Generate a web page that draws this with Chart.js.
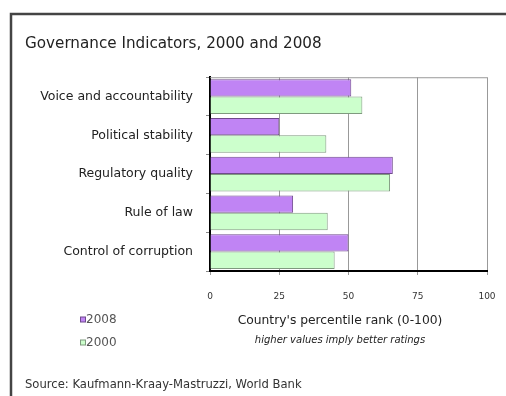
<!DOCTYPE html>
<html><head><meta charset="utf-8">
<script src="https://cdn.jsdelivr.net/npm/chart.js@4/dist/chart.umd.min.js"></script>
<style>html,body{margin:0;padding:0;background:#fff;}#wrap{width:506px;height:396px;}</style>
</head><body><div id="wrap"><canvas id="c" width="506" height="396"></canvas></div>
<script>
const categories = ["Voice and accountability","Political stability","Regulatory quality","Rule of law","Control of corruption"];
const values2008 = [51, 25, 66, 30, 50];
const values2000 = [55, 42, 65, 42.5, 45];
const xTicks = [0, 25, 50, 75, 100];
const seriesNames = ["2008", "2000"];
const titleText = "Governance Indicators, 2000 and 2008";
const axisTitle = "Country's percentile rank (0-100)";
const axisSubtitle = "higher values imply better ratings";
const sourceText = "Source: Kaufmann-Kraay-Mastruzzi, World Bank";

const FONT = "'DejaVu Sans', Arial, sans-serif";
const purple = "#c084f4", purpleB = "#6f4a8c";
const green = "#ccffcc", greenB = "#7f9a7f";

const extras = {
  id: 'extras',
  beforeDraw(chart) {
    const ctx = chart.ctx;
    ctx.save();
    ctx.fillStyle = '#fff'; ctx.fillRect(0,0,chart.width,chart.height);
    ctx.strokeStyle = '#444'; ctx.lineWidth = 2.5;
    ctx.beginPath(); ctx.moveTo(11, 396); ctx.lineTo(11, 14); ctx.lineTo(506, 14); ctx.stroke();
    ctx.restore();
  },
  afterDatasetsDraw(chart) {
    const ctx = chart.ctx, a = chart.chartArea;
    ctx.save();
    ctx.strokeStyle = '#999'; ctx.lineWidth = 1;
    ctx.beginPath(); ctx.moveTo(a.left, a.top + 0.5); ctx.lineTo(a.right, a.top + 0.5); ctx.stroke();
    ctx.restore();
  },
  afterDraw(chart) {
    const ctx = chart.ctx, a = chart.chartArea;
    ctx.save();
    ctx.fillStyle = '#222'; ctx.textBaseline = 'middle';
    const cx = 340;
    ctx.textAlign = 'center';
    ctx.font = "12.3px " + FONT;
    ctx.fillText(axisTitle, cx, 321);
    ctx.font = "italic 10px " + FONT;
    ctx.fillText(axisSubtitle, cx, 340);
    // legend
    ctx.textAlign = 'left';
    ctx.font = "12px " + FONT;
    const items = [[seriesNames[0], purple, purpleB, 320], [seriesNames[1], green, greenB, 343]];
    items.forEach(([t, f, b, y]) => {
      ctx.fillStyle = f; ctx.fillRect(80.5, y - 3, 5, 5);
      ctx.strokeStyle = b; ctx.lineWidth = 1; ctx.strokeRect(80.5, y - 3, 5, 5);
      ctx.fillStyle = '#555'; ctx.fillText(t, 86, y);
    });
    ctx.fillStyle = '#333';
    ctx.font = "11.6px " + FONT;
    ctx.fillText(sourceText, 25, 385);
    ctx.restore();
  }
};

new Chart(document.getElementById('c'), {
  type: 'bar',
  data: {
    labels: categories,
    datasets: [
      { label: seriesNames[0], data: values2008, backgroundColor: purple, borderColor: purpleB, borderWidth: 1 },
      { label: seriesNames[1], data: values2000, backgroundColor: green, borderColor: greenB, borderWidth: 1 }
    ]
  },
  options: {
    indexAxis: 'y',
    responsive: false,
    animation: false,
    devicePixelRatio: 1,
    categoryPercentage: 0.9,
    barPercentage: 1.0,
    layout: { padding: { left: 25, right: 19, top: 14, bottom: 0 } },
    plugins: {
      legend: { display: false },
      tooltip: { enabled: false },
      title: {
        display: true, text: titleText, align: 'start', color: '#222',
        font: { family: FONT, size: 15.2, weight: 'normal' },
        padding: { top: 21, bottom: 24 }
      }
    },
    scales: {
      x: {
        min: 0, max: 100,
        afterBuildTicks(s) { s.ticks = xTicks.map(v => ({ value: v })); },
        afterFit(s) { s.height = 125; s.paddingLeft = 0; s.paddingRight = 0; },
        grid: { color: '#999', lineWidth: 1, tickLength: 4 },
        border: { color: '#000', width: 2 },
        ticks: { color: '#333', font: { family: FONT, size: 9 }, padding: 16, maxRotation: 0 }
      },
      y: {
        afterFit(s) { s.width = 185; },
        grid: { drawOnChartArea: false, color: '#888', tickLength: 4, offset: true },
        border: { color: '#000', width: 2 },
        ticks: { color: '#222', font: { family: FONT, size: 12.5 }, padding: 13 }
      }
    }
  },
  plugins: [extras]
});
</script>
</body></html>
